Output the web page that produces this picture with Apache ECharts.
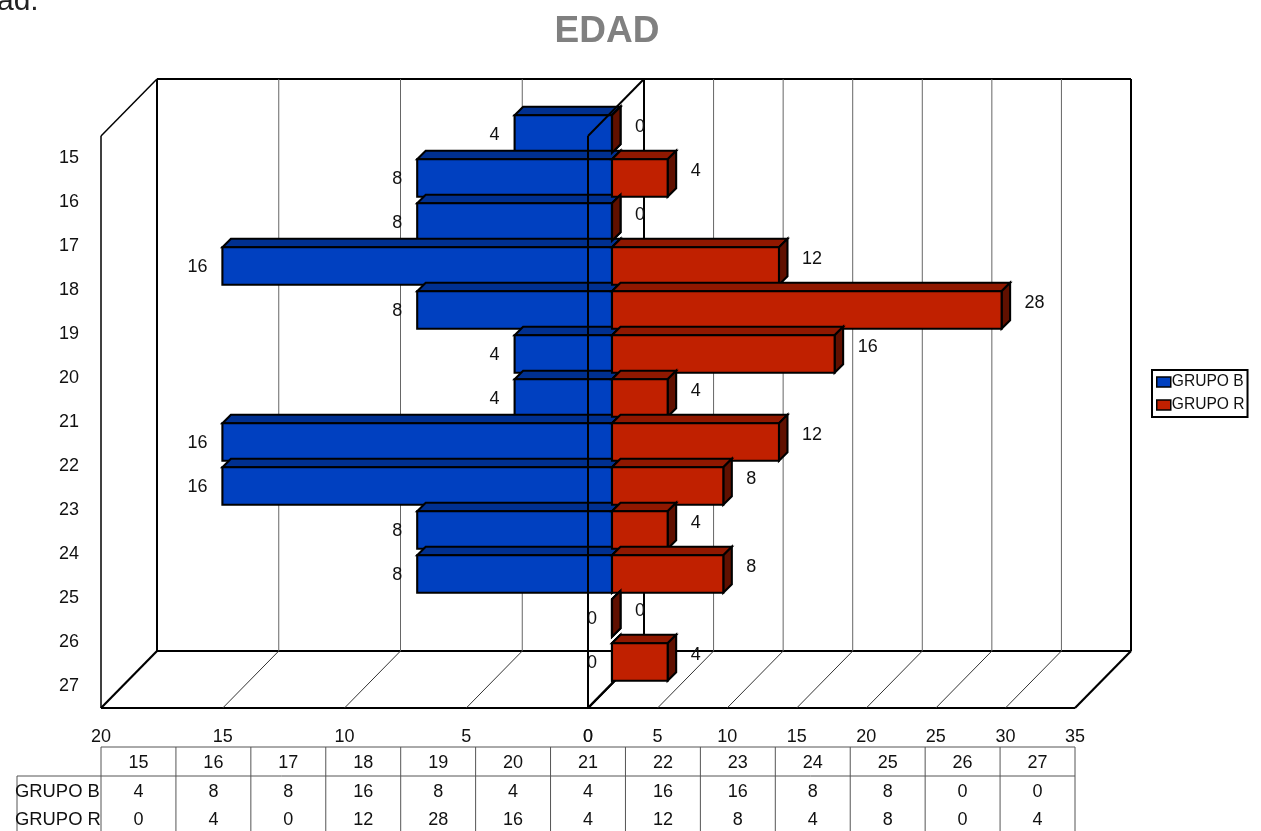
<!DOCTYPE html>
<html>
<head>
<meta charset="utf-8">
<title>EDAD</title>
<script src="https://cdn.jsdelivr.net/npm/echarts@6/dist/echarts.min.js"></script>
<style>
html,body{margin:0;padding:0;background:#fff;overflow:hidden}
#chart{width:1261px;height:831px}
</style>
</head>
<body>
<div id="chart"></div>
<script>
// Age groups and head counts per group
const ages = ['15','16','17','18','19','20','21','22','23','24','25','26','27'];
const grupoB = [4,8,8,16,8,4,4,16,16,8,8,0,0];
const grupoR = [0,4,0,12,28,16,4,12,8,4,8,0,4];
const leftTicks = [0,5,10,15,20];
const rightTicks = [0,5,10,15,20,25,30,35];

const FONT = '"Liberation Sans", Arial, sans-serif';
const INK = '#111';
// Oblique depth of the plot box and of each bar
const BOX_DX = 56, BOX_DY = -57;
const BAR_SHIFT = 24, BAR_DEPTH = 8.5, BAR_FILL = 0.85;
const BLUE = {front:'#0040c0', top:'#003090', side:'#002a80'};
const RED = {front:'#c02000', top:'#901800', side:'#601000'};

const seg = (x1,y1,x2,y2,w,c) => ({
  type:'line', shape:{x1,y1,x2,y2}, style:{stroke:c||'#000', lineWidth:w||1}
});

// Back wall and floor: gridlines per tick plus the horizontal frame edges
function wallRenderer(ticks, isLeft){
  return function(params, api){
    const rect = params.coordSys;
    const top = rect.y, bottom = rect.y + rect.height;
    const tick = api.value(0);
    const x = api.coord([tick,0])[0];
    const strong = tick === 0 || tick === ticks[ticks.length-1];
    const kids = [
      seg(x+BOX_DX, top+BOX_DY, x+BOX_DX, bottom+BOX_DY, strong?2:1, strong?'#000':'#666'),
      seg(x, bottom, x+BOX_DX, bottom+BOX_DY, strong?2.2:1, strong?'#000':'#333')
    ];
    if (params.dataIndex === 0){
      const xa = api.coord([ticks[0],0])[0];
      const xb = api.coord([ticks[ticks.length-1],0])[0];
      kids.push(
        seg(xa+BOX_DX, top+BOX_DY, xb+BOX_DX, top+BOX_DY, 2),
        seg(xa+BOX_DX, bottom+BOX_DY, xb+BOX_DX, bottom+BOX_DY, 2),
        seg(xa, bottom, xb, bottom, 2)
      );
    }
    if (isLeft && tick === ticks[ticks.length-1]){
      kids.push(seg(x, top, x, bottom, 1.5), seg(x, top, x+BOX_DX, top+BOX_DY, 1.5));
    }
    return {type:'group', children:kids};
  };
}

// Front centre edge of the box, which passes in front of the bars
function frontEdge(params, api){
  const rect = params.coordSys;
  const x = api.coord([0,0])[0];
  return {type:'group', children:[
    seg(x, rect.y, x, rect.y+rect.height, 2),
    seg(x, rect.y, x+BOX_DX, rect.y+BOX_DY, 2)
  ]};
}

// One oblique bar with front, top and end faces and its value label
function barRenderer(palette, isLeft){
  return function(params, api){
    const value = api.value(0), idx = api.value(1);
    const base = api.coord([0,idx]), end = api.coord([value,idx]);
    const h = api.size([0,1])[1] * BAR_FILL;
    const cy = base[1] - BAR_SHIFT;
    const y0 = cy - h/2, y1 = cy + h/2;
    const xa = Math.min(base[0],end[0]) + BAR_SHIFT;
    const xb = Math.max(base[0],end[0]) + BAR_SHIFT;
    const d = BAR_DEPTH;
    const outline = {stroke:'#000', lineWidth:2.1, lineJoin:'miter'};
    const face = (points, fill) => ({
      type:'polygon', shape:{points}, style:Object.assign({fill}, outline)
    });
    return {type:'group', children:[
      face([[xa,y0],[xa+d,y0-d],[xb+d,y0-d],[xb,y0]], palette.top),
      face([[xb,y0],[xb+d,y0-d],[xb+d,y1-d],[xb,y1]], palette.side),
      face([[xa,y0],[xb,y0],[xb,y1],[xa,y1]], palette.front),
      {type:'text', z2:50, style:{
        text:String(value),
        x:isLeft ? xa-15 : xb+23,
        y:(isLeft ? cy : cy-8) + 1,
        align:isLeft?'right':'left', verticalAlign:'middle',
        font:'18px '+FONT, fill:INK
      }}
    ]};
  };
}

// Data table under the axes
const COL_LEFT = 101, COL_W = 974/13, ROW_TOP = 747, ROW_2 = 776, ROW_END = 840, HEAD_LEFT = 17;
const TABLE_LINE = '#555';
const tableGraphics = [];
const tLine = (x1,y1,x2,y2) => tableGraphics.push({type:'line', silent:true,
  shape:{x1,y1,x2,y2}, style:{stroke:TABLE_LINE, lineWidth:1}});
const tText = (text,x,y,align,size) => tableGraphics.push({type:'text', silent:true,
  style:{text, x, y, align, verticalAlign:'middle', font:(size||18)+'px '+FONT, fill:INK}});
tLine(COL_LEFT, ROW_TOP, COL_LEFT+COL_W*13, ROW_TOP);
tLine(HEAD_LEFT, ROW_2, COL_LEFT+COL_W*13, ROW_2);
tLine(HEAD_LEFT, ROW_2, HEAD_LEFT, ROW_END);
for (let i=0;i<=13;i++) tLine(COL_LEFT+COL_W*i, ROW_TOP, COL_LEFT+COL_W*i, ROW_END);
tText('GRUPO B', 15, 792, 'left', 18.4);
tText('GRUPO R', 15, 820, 'left', 18.4);
ages.forEach((age,i)=>{
  const cx = COL_LEFT + COL_W*(i+0.5);
  tText(age, cx, 763, 'center');
  tText(String(grupoB[i]), cx, 792, 'center');
  tText(String(grupoR[i]), cx, 820, 'center');
});

const tickLabel = {fontFamily:FONT, fontSize:18, color:INK, margin:20};
const option = {
  animation:false,
  backgroundColor:'#fff',
  title:{
    text:'EDAD', left:602, top:8, textAlign:'center',
    textStyle:{fontFamily:FONT, fontWeight:'bold', fontSize:37, color:'#808080'}
  },
  legend:{
    orient:'vertical', left:1152, top:370, icon:'rect',
    itemWidth:14, itemHeight:10, itemGap:5,
    padding:[3,3,3,4], borderColor:'#000', borderWidth:2,
    data:['GRUPO B','GRUPO R'],
    textStyle:{fontFamily:FONT, fontSize:15.6, color:INK, padding:[4,0,0,-4], lineHeight:14},
    itemStyle:{borderColor:'#000', borderWidth:1.5},
    selectedMode:false
  },
  grid:[
    {left:101, top:136, width:487, height:572},
    {left:588, top:136, width:487, height:572}
  ],
  xAxis:[
    {gridIndex:0, type:'value', inverse:true, min:0, max:20, interval:5, position:'bottom',
     axisLine:{show:false}, axisTick:{show:false}, splitLine:{show:false}, axisLabel:tickLabel},
    {gridIndex:1, type:'value', min:0, max:35, interval:5, position:'bottom',
     axisLine:{show:false}, axisTick:{show:false}, splitLine:{show:false}, axisLabel:tickLabel}
  ],
  yAxis:[
    {gridIndex:0, type:'category', inverse:true, data:ages, position:'left',
     axisLine:{show:false}, axisTick:{show:false},
     axisLabel:{fontFamily:FONT, fontSize:18, color:INK, margin:22, padding:[2,0,0,0]}},
    {gridIndex:1, type:'category', inverse:true, data:ages, show:false}
  ],
  series:[
    {type:'custom', name:'wallL', xAxisIndex:0, yAxisIndex:0, z:1, silent:true, clip:false,
     data:leftTicks.map(t=>[t,0]), renderItem:wallRenderer(leftTicks,true)},
    {type:'custom', name:'wallR', xAxisIndex:1, yAxisIndex:1, z:1, silent:true, clip:false,
     data:rightTicks.map(t=>[t,0]), renderItem:wallRenderer(rightTicks,false)},
    {type:'custom', name:'GRUPO B', xAxisIndex:0, yAxisIndex:0, z:2, clip:false,
     itemStyle:{color:BLUE.front},
     data:grupoB.map((v,i)=>[v,i]), renderItem:barRenderer(BLUE,true)},
    {type:'custom', name:'GRUPO R', xAxisIndex:1, yAxisIndex:1, z:2, clip:false,
     itemStyle:{color:RED.front},
     data:grupoR.map((v,i)=>[v,i]), renderItem:barRenderer(RED,false)},
    {type:'custom', name:'edge', xAxisIndex:1, yAxisIndex:1, z:3, silent:true, clip:false,
     data:[[0,0]], renderItem:frontEdge}
  ],
  graphic:[
    // Tail of the sentence running off the top-left corner of the page
    {type:'text', silent:true, style:{text:'ad.', x:-3, y:17, verticalAlign:'bottom',
      font:'30px '+FONT, fill:'#222'}}
  ].concat(tableGraphics)
};
echarts.init(document.getElementById('chart'), null, {renderer:'canvas'}).setOption(option);
</script>
</body>
</html>
